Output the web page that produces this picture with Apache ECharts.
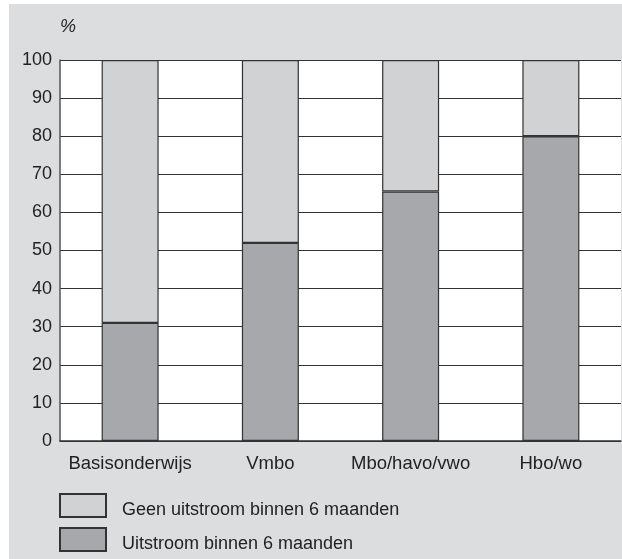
<!DOCTYPE html>
<html>
<head>
<meta charset="utf-8">
<script src="https://cdn.jsdelivr.net/npm/echarts@6/dist/echarts.min.js"></script>
<style>
  html, body { margin: 0; padding: 0; background: #fff; }
  #bg { position: absolute; left: 9px; top: 4px; width: 613px; height: 555px; background: #dcdddf; }
  #chart { position: absolute; left: 0; top: 0; width: 622px; height: 559px; }
</style>
</head>
<body>
<div id="bg"></div>
<div id="chart"></div>
<script>
const categories = ['Basisonderwijs', 'Vmbo', 'Mbo/havo/vwo', 'Hbo/wo']
const uitstroom = [31, 52, 65.5, 80]
const geenUitstroom = [69, 48, 34.5, 20]
const seriesNames = ['Uitstroom binnen 6 maanden', 'Geen uitstroom binnen 6 maanden']

const fontFamily = '"Liberation Sans", Arial, sans-serif'
const textColor = '#222'

const chart = echarts.init(document.getElementById('chart'))
chart.setOption({
  animation: false,
  textStyle: { fontFamily: fontFamily },
  grid: {
    left: 60,
    right: 1,
    top: 60,
    bottom: 118,
    show: true,
    backgroundColor: '#fff',
    borderWidth: 0,
  },
  legend: {
    orient: 'vertical',
    left: 59,
    top: 493,
    padding: 0,
    itemWidth: 46,
    itemHeight: 23,
    itemGap: 8,
    icon: 'rect',
    data: [seriesNames[1], seriesNames[0]],
    formatter: name => '{t|' + name + '}',
    textStyle: {
      fontSize: 18,
      color: textColor,
      fontFamily: fontFamily,
      rich: {
        t: {
          fontSize: 18,
          color: textColor,
          fontFamily: fontFamily,
          padding: [9, 0, 0, 11],
        },
      },
    },
  },
  xAxis: {
    type: 'category',
    data: categories,
    axisTick: { show: false },
    axisLine: { lineStyle: { color: '#333', width: 1.5 } },
    axisLabel: { interval: 0, fontSize: 18.5, color: textColor, margin: 13, fontFamily: fontFamily },
  },
  yAxis: {
    type: 'value',
    min: 0,
    max: 100,
    interval: 10,
    name: '%',
    nameLocation: 'end',
    nameGap: 24,
    nameTextStyle: {
      fontSize: 18,
      fontStyle: 'italic',
      color: textColor,
      align: 'left',
      fontFamily: fontFamily,
    },
    axisLine: { show: true, lineStyle: { color: '#555', width: 1.5 } },
    axisTick: { show: false },
    axisLabel: { fontSize: 18, color: textColor, margin: 8, fontFamily: fontFamily },
    splitLine: { lineStyle: { color: '#333', width: 1.2 } },
  },
  series: [
    {
      name: seriesNames[0],
      type: 'bar',
      stack: 'total',
      barWidth: 57,
      data: uitstroom,
      itemStyle: { color: '#a7a8ab', borderColor: '#333', borderWidth: 1.2 },
    },
    {
      name: seriesNames[1],
      type: 'bar',
      stack: 'total',
      barWidth: 57,
      data: geenUitstroom,
      itemStyle: { color: '#d1d2d4', borderColor: '#333', borderWidth: 1.2 },
    },
  ],
})
</script>
</body>
</html>
